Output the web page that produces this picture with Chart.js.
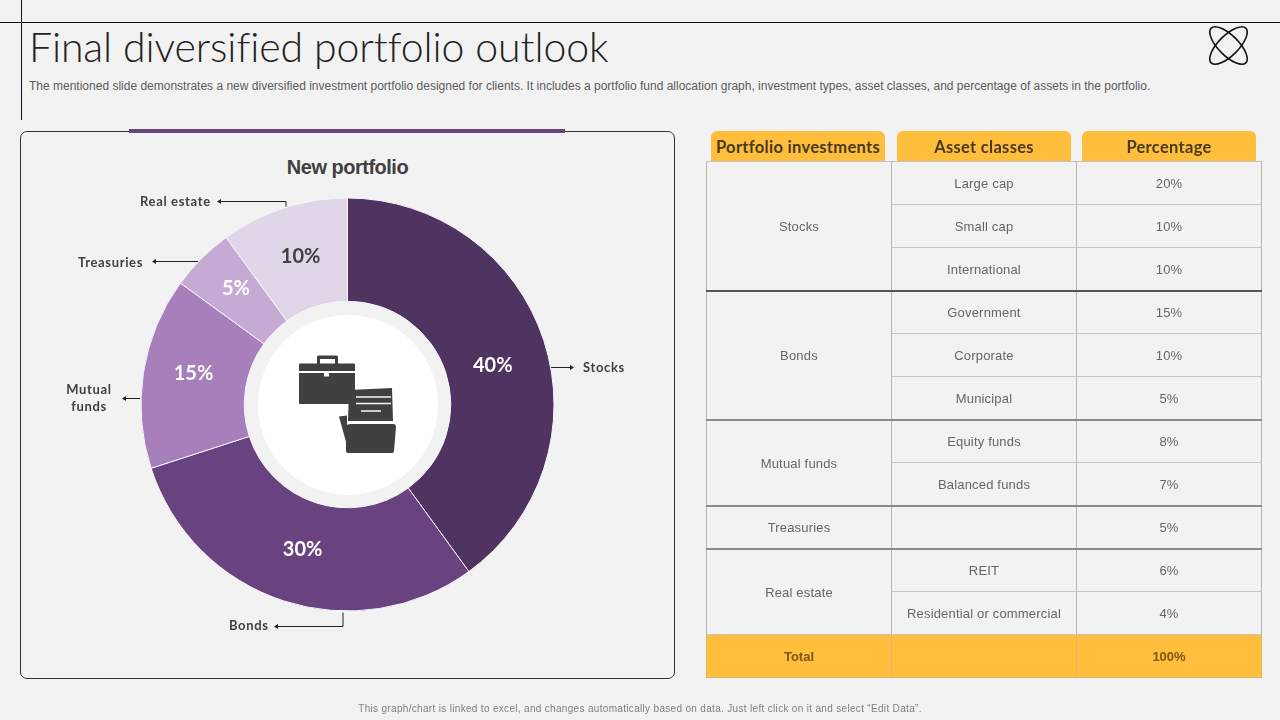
<!DOCTYPE html>
<html><head><meta charset="utf-8">
<script src="https://cdn.jsdelivr.net/npm/chart.js@4"></script>
<style>
html,body{margin:0;padding:0;background:#f2f2f2;width:1280px;height:720px;overflow:hidden}
body{position:relative;font-family:"Liberation Sans",Arial,sans-serif}
.abs{position:absolute;white-space:nowrap}
#title{left:29px;top:23px;font:300 41px/48px Lato,sans-serif;color:#222;letter-spacing:-.1px}
#desc{left:29px;top:79px;font:12px/15px "Liberation Sans",sans-serif;color:#5c5c5c;letter-spacing:0}
#foot{left:0;width:1280px;top:702px;text-align:center;font:10px/14px "Liberation Sans",sans-serif;color:#7f7f7f;letter-spacing:.32px}
#hl{left:0;top:22px;width:1280px;height:1px;background:#111}
#vl{left:21px;top:0;width:1px;height:120px;background:#111}
#panel{left:20px;top:131px;width:653px;height:546px;border:1px solid #333;border-radius:7px;box-sizing:content-box}
#bar{left:129px;top:129px;width:436px;height:4px;background:#68437f}
#ptitle{left:20px;width:655px;top:155px;text-align:center;font:bold 20px/24px "Liberation Sans",sans-serif;color:#404040;letter-spacing:-.5px}
canvas{position:absolute;left:0;top:0}
#disc{left:257.5px;top:314.5px;width:180px;height:180px;border-radius:50%;background:#fff}
svg{position:absolute;left:0;top:0}
.tab{position:absolute;top:131px;height:31px;background:#ffbe3c;border-radius:6px 6px 0 0;text-align:center;font:bold 16.5px/32px Lato,sans-serif;color:#4a3a1c;white-space:nowrap;letter-spacing:.3px}
.lab{position:absolute;font:bold 13px/17px Lato,sans-serif;color:#404040;text-align:center;white-space:nowrap;letter-spacing:.65px}
table{position:absolute;left:706px;top:161px;border-collapse:collapse;table-layout:fixed;width:556px}
td{width:185px;height:43px;box-sizing:border-box;padding:2px 0 0 0;border:1px solid #c4c4c4;text-align:center;vertical-align:middle;font:13px/16px "Liberation Sans",sans-serif;color:#666;letter-spacing:.18px}
td.g{border-left:1px solid #b5b5b5;border-right:1px solid #b5b5b5}
tr.end td{border-bottom:2px solid #8a8a8a}
tr.dark td{border-bottom:2px solid #555}
tr.total td{background:#ffbe3c;font-weight:bold;color:#7a5a14;border:1px solid #d9b867;letter-spacing:0}
</style></head>
<body>
<div class="abs" id="hl"></div><div class="abs" id="vl"></div>
<div class="abs" id="title">Final diversified portfolio outlook</div>
<div class="abs" id="desc">The mentioned slide demonstrates a new diversified investment portfolio designed for clients. It includes a portfolio fund allocation graph, investment types, asset classes, and percentage of assets in the portfolio.</div>
<div class="abs" id="panel"></div><div class="abs" id="bar"></div>
<div class="abs" id="ptitle">New portfolio</div>
<canvas id="c" width="1280" height="720"></canvas>
<div class="abs" id="disc"></div>
<svg width="1280" height="720" viewBox="0 0 1280 720">
 <g fill="none" stroke="#111" stroke-width="1.6">
  <ellipse cx="1228.500" cy="45.500" rx="24.500" ry="10" transform="rotate(45 1228.500 45.500)"/>
  <ellipse cx="1228.500" cy="45.500" rx="24.500" ry="10" transform="rotate(-45 1228.500 45.500)"/>
 </g>
 <g fill="#404040">
  <path d="M317 364v-7q0-1.500 1.500-1.500h18q1.500 0 1.500 1.500v7h-3v-5h-15v5z"/>
  <path d="M299 364.500q0-1 1-1h54q1 0 1 1v6.500h-56z"/>
  <path d="M299 373h25v3.500h5v-3.500h26v30q0 1-1 1h-54q-1 0-1-1z"/>
  <path d="M349 390l43-2 1 33h-45z" />
  <path d="M339 416.500l8-1v30z"/>
  <path d="M351 424h42q3 0 3 3l-2 24q0 2-3 2h-42q-3 0-3-2l0-24q0-3 5-3z"/>
 </g>
 <g fill="none" stroke="#f8f8f8" stroke-width="1.5">
  <path d="M356 397h35M356 403.500h35M361 411h20"/>
  <path d="M347 422h47"/>
 </g>
 <g fill="none" stroke="#222" stroke-width="1">
  <path d="M220 201.500h66v5"/>
  <path d="M155 261.500h43"/>
  <path d="M125 398.500h15"/>
  <path d="M551 367.500h21"/>
  <path d="M277 626.500h66v-14"/>
 </g>
 <g fill="#222">
  <path d="M217 201.500l4-2.500v5z"/><path d="M152 261.500l4-2.500v5z"/><path d="M122 398.500l4-2.500v5z"/>
  <path d="M574 367.500l-4-2.500v5z"/><path d="M274 626.500l4-2.500v5z"/>
 </g>
</svg>
<div class="lab" style="left:140px;top:193px">Real estate</div>
<div class="lab" style="left:78px;top:254px">Treasuries</div>
<div class="lab" style="left:49px;width:80px;top:381px">Mutual<br>funds</div>
<div class="lab" style="left:583px;top:359px">Stocks</div>
<div class="lab" style="left:229px;top:617px">Bonds</div>
<div class="tab" style="left:711px;width:174px">Portfolio investments</div>
<div class="tab" style="left:897px;width:174px">Asset classes</div>
<div class="tab" style="left:1082px;width:174px">Percentage</div>
<table id="t"></table>
<div class="abs" id="foot">This graph/chart is linked to excel, and changes automatically based on data. Just left click on it and select “Edit Data”.</div>
<script>
const categories = ["Stocks","Bonds","Mutual funds","Treasuries","Real estate"];
const shares = [40,30,15,5,10];
const sliceColors = ["#4f3360","#68437f","#a77fba","#c5aad3","#e1d5e8"];
const labelColors = ["#ffffff","#ffffff","#ffffff","#ffffff","#404040"];
const labelNudge = [[-2,9],[3,-2],[-1,-7],[-2,-6],[1,-1]];

const groupNames = ["Stocks","Bonds","Mutual funds","Treasuries","Real estate"];
const groupSizes = [3,3,2,1,2];
const assetClasses = ["Large cap","Small cap","International","Government","Corporate","Municipal","Equity funds","Balanced funds","","REIT","Residential or commercial"];
const assetPercents = ["20%","10%","10%","15%","10%","5%","8%","7%","5%","6%","4%"];
const totalLabel = "Total"; const totalPercent = "100%";

const t = document.getElementById('t');
let idx = 0, html = '';
groupNames.forEach((g,gi)=>{
  for(let i=0;i<groupSizes[gi];i++){
    const last = i===groupSizes[gi]-1;
    const cls = last ? (gi===0?'dark':(gi<groupNames.length-1?'end':'')) : '';
    html += `<tr class="${cls}">`;
    if(i===0) html += `<td class="g" rowspan="${groupSizes[gi]}" style="border-bottom:${gi===0?'2px solid #555':gi<groupNames.length-1?'2px solid #8a8a8a':'1px solid #c4c4c4'}">${g}</td>`;
    html += `<td class="g">${assetClasses[idx]}</td><td class="g">${assetPercents[idx]}</td></tr>`;
    idx++;
  }
});
html += `<tr class="total"><td>${totalLabel}</td><td></td><td>${totalPercent}</td></tr>`;
t.innerHTML = html;

const pctLabels = {
  id:'pctLabels',
  afterDatasetsDraw(chart){
    const ctx = chart.ctx, meta = chart.getDatasetMeta(0);
    ctx.save();
    ctx.font = '700 20px Lato, sans-serif';
    ctx.textAlign='center'; ctx.textBaseline='middle';
    meta.data.forEach((arc,i)=>{
      const p = arc.tooltipPosition();
      ctx.fillStyle = labelColors[i];
      ctx.fillText(shares[i]+'%', p.x+labelNudge[i][0], p.y+labelNudge[i][1]);
    });
    ctx.restore();
  }
};
new Chart(document.getElementById('c'),{
  type:'doughnut',
  data:{labels:categories,datasets:[{data:shares,backgroundColor:sliceColors,borderColor:'#f7f3f9',borderWidth:1}]},
  options:{
    responsive:false,animation:false,devicePixelRatio:1,
    cutout:'50%',rotation:0,
    layout:{padding:{left:140.5,right:725.5,top:197.5,bottom:108.5}},
    plugins:{legend:{display:false},tooltip:{enabled:false},title:{display:false}}
  },
  plugins:[pctLabels]
});
</script>
</body></html>
